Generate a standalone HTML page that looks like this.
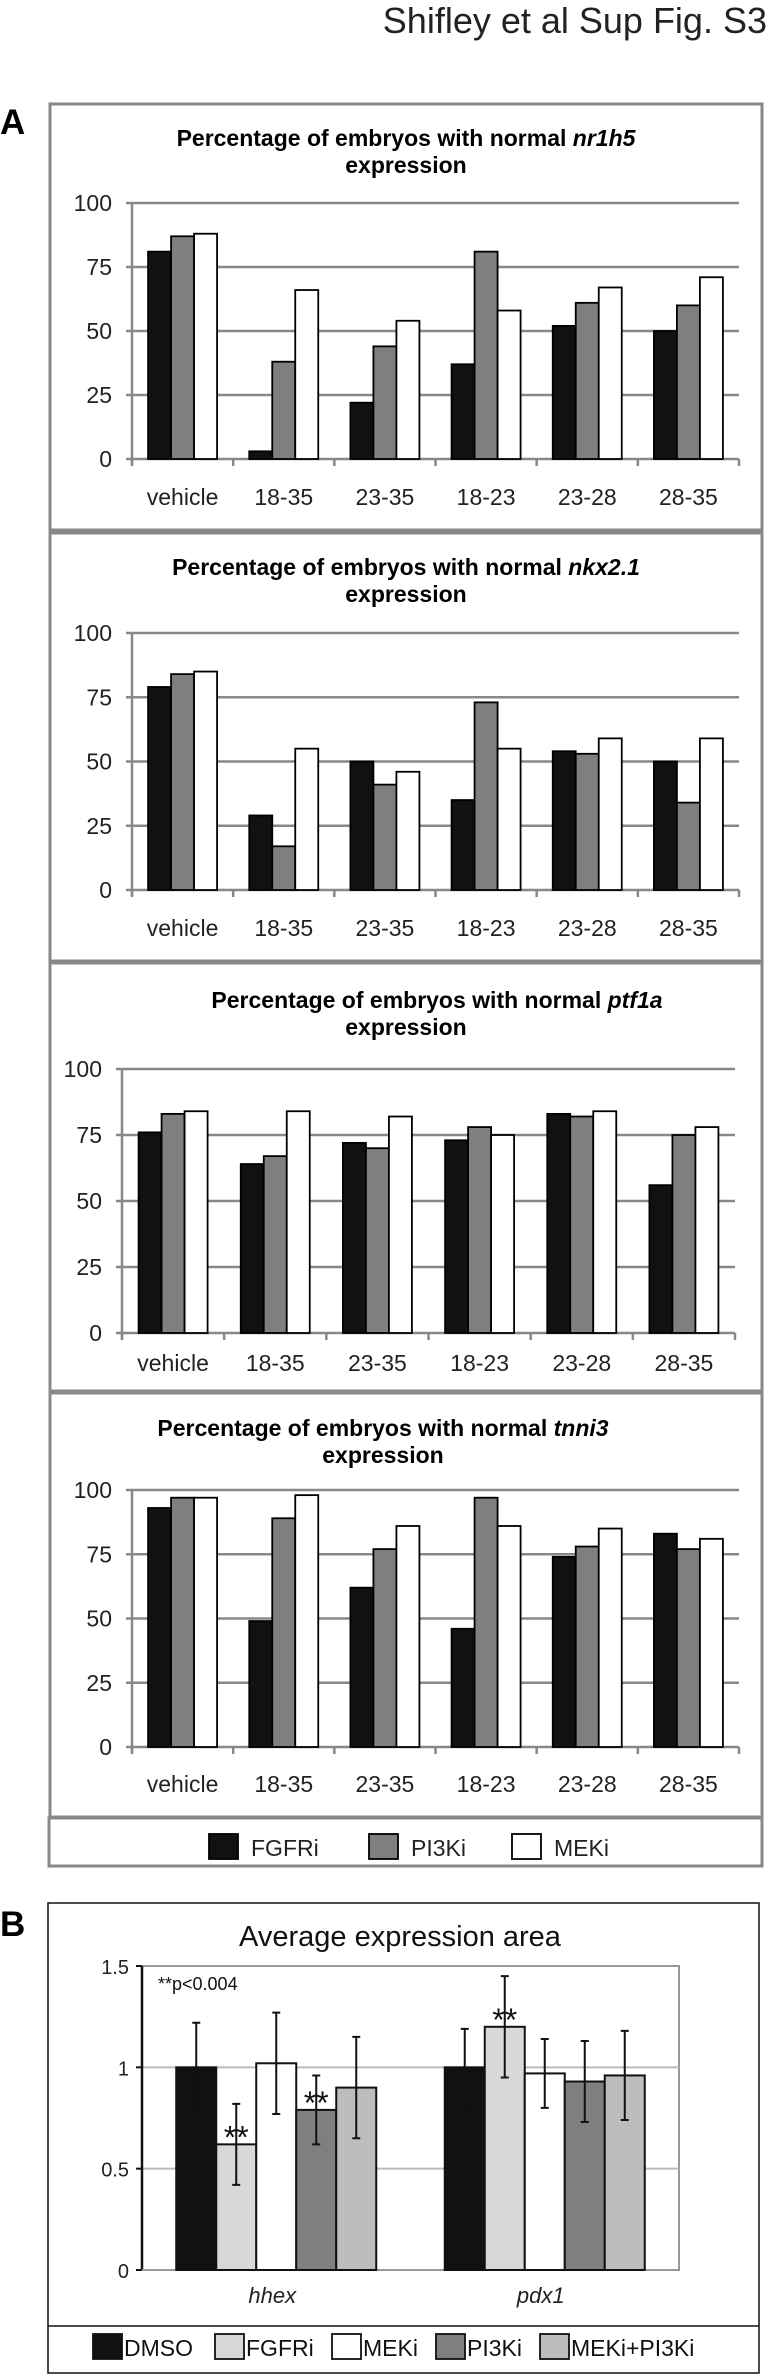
<!DOCTYPE html>
<html><head><meta charset="utf-8"><style>
body{margin:0;background:#fff}
svg{display:block;font-family:"Liberation Sans",Arial,sans-serif}
</style></head><body>
<svg id="fig" width="770" height="2376" viewBox="0 0 770 2376" xmlns="http://www.w3.org/2000/svg">
<text x="767" y="33" text-anchor="end" font-size="36" fill="#222">Shifley et al Sup Fig. S3</text>
<text x="0" y="134" font-size="35" font-weight="bold">A</text>
<text x="0" y="1936" font-size="35" font-weight="bold">B</text>
<g id="panels"></g>
</svg>
<script>
const categories = ["vehicle","18-35","23-35","18-23","23-28","28-35"];
const seriesNames = ["FGFRi","PI3Ki","MEKi"];
const yTicks = [0,25,50,75,100];
const nr1h5FGFRi = [81,3,22,37,52,50];
const nr1h5PI3Ki = [87,38,44,81,61,60];
const nr1h5MEKi = [88,66,54,58,67,71];
const nkx21FGFRi = [79,29,50,35,54,50];
const nkx21PI3Ki = [84,17,41,73,53,34];
const nkx21MEKi = [85,55,46,55,59,59];
const ptf1aFGFRi = [76,64,72,73,83,56];
const ptf1aPI3Ki = [83,67,70,78,82,75];
const ptf1aMEKi = [84,84,82,75,84,78];
const tnni3FGFRi = [93,49,62,46,74,83];
const tnni3PI3Ki = [97,89,77,97,78,77];
const tnni3MEKi = [97,98,86,86,85,81];

const bCategories = ["hhex","pdx1"];
const bSeries = ["DMSO","FGFRi","MEKi","PI3Ki","MEKi+PI3Ki"];
const bTicks = [0,0.5,1,1.5];
const hhexValues = [1.0,0.62,1.02,0.79,0.90];
const hhexErrors = [0.22,0.20,0.25,0.17,0.25];
const pdx1Values = [1.0,1.20,0.97,0.93,0.96];
const pdx1Errors = [0.19,0.25,0.17,0.20,0.22];
const hhexSig = [false,true,false,true,false];
const pdx1Sig = [false,true,false,false,false];

const NS="http://www.w3.org/2000/svg";
const root=document.getElementById('panels');
function mk(tag,attrs,parent){const e=document.createElementNS(NS,tag);for(const k in attrs)e.setAttribute(k,attrs[k]);(parent||root).appendChild(e);return e;}
const aColors=["#111","#7f7f7f","#fff"];

function drawPanel(cfg){
  const g=mk('g',{});
  
  
  const box=mk('rect',{x:50,y:cfg.top,width:712,height:cfg.bottom-cfg.top,fill:'#fff',stroke:'#888','stroke-width':3},g);
  
  
  const t1=mk('text',{x:cfg.tcx,y:cfg.t1y,'text-anchor':'middle','font-size':23,'font-weight':'bold'},g);
  
  
  t1.appendChild(document.createTextNode('Percentage of embryos with normal '));
  const ts=mk('tspan',{'font-style':'italic'},t1);ts.textContent=cfg.gene;
  const t2=mk('text',{x:cfg.t2cx,y:cfg.t1y+27,'text-anchor':'middle','font-size':23,'font-weight':'bold'},g);
  t2.textContent='expression';
  
  
  const yS=v=>cfg.y0-(cfg.y0-cfg.y100)*v/100;
  const cw=(cfg.x1-cfg.ax)/categories.length;
  yTicks.forEach(v=>{
    const y=yS(v);
    const l=mk('line',{x1:cfg.ax-6,x2:cfg.x1,y1:y,y2:y,stroke:'#888','stroke-width':2.5},g);
    
    
    const tx=mk('text',{x:cfg.ax-20,y:y+8,'text-anchor':'end','font-size':23,fill:'#222'},g);
    tx.textContent=v;
    
    
  });
  mk('line',{x1:cfg.ax,x2:cfg.ax,y1:cfg.y100,y2:cfg.y0+6,stroke:'#888','stroke-width':2.5},g);
  for(let i=0;i<=categories.length;i++){
    const x=cfg.ax+i*cw;
    mk('line',{x1:x,x2:x,y1:cfg.y0,y2:cfg.y0+7,stroke:'#888','stroke-width':2.5},g);
  }
  const series=[cfg.s0,cfg.s1,cfg.s2];
  const bw=23;
  categories.forEach((c,i)=>{
    const gx=cfg.ax+i*cw+(cw-3*bw)/2;
    series.forEach((arr,j)=>{
      const y=yS(arr[i]);
      const r=mk('rect',{x:gx+j*bw,y:y,width:bw,height:cfg.y0-y,fill:aColors[j],stroke:'#000','stroke-width':1.8},g);
      
      
    });
    const lt=mk('text',{x:cfg.ax+(i+0.5)*cw,y:cfg.lblY,'text-anchor':'middle','font-size':23,fill:'#222'},g);
    lt.textContent=c;
    
    
  });
}
drawPanel({name:'nr1h5',gene:'nr1h5',top:104,bottom:530,tcx:406,t2cx:406,t1y:146,ax:132,x1:739,y100:203,y0:459,lblY:505,s0:nr1h5FGFRi,s1:nr1h5PI3Ki,s2:nr1h5MEKi});
drawPanel({name:'nkx2-1',gene:'nkx2.1',top:533,bottom:961,tcx:406,t2cx:406,t1y:575,ax:132,x1:739,y100:633,y0:890,lblY:936,s0:nkx21FGFRi,s1:nkx21PI3Ki,s2:nkx21MEKi});
drawPanel({name:'ptf1a',gene:'ptf1a',top:963,bottom:1391,tcx:437,t2cx:406,t1y:1008,ax:122,x1:735,y100:1069,y0:1333,lblY:1371,s0:ptf1aFGFRi,s1:ptf1aPI3Ki,s2:ptf1aMEKi});
drawPanel({name:'tnni3',gene:'tnni3',top:1393,bottom:1817,tcx:383,t2cx:383,t1y:1436,ax:132,x1:739,y100:1490,y0:1747,lblY:1792,s0:tnni3FGFRi,s1:tnni3PI3Ki,s2:tnni3MEKi});

// Legend A
const legA=mk('g',{});


mk('rect',{x:49,y:1818,width:713,height:48,fill:'#fff',stroke:'#888','stroke-width':3},legA);
const legAX=[209,369,512];
seriesNames.forEach((n,j)=>{
  const r=mk('rect',{x:legAX[j],y:1834,width:29,height:25,fill:aColors[j],stroke:'#000','stroke-width':1.8},legA);
  
  
  const t=mk('text',{x:legAX[j]+42,y:1856,'font-size':23,fill:'#222'},legA);
  t.textContent=n;
  
  
});

// Panel B
const bColors=["#111","#d8d8d8","#fff","#7f7f7f","#bdbdbd"];
const gb=mk('g',{});


mk('rect',{x:48,y:1903,width:711,height:470,fill:'#fff',stroke:'#111','stroke-width':1.5},gb);
mk('line',{x1:48,x2:759,y1:2326,y2:2326,stroke:'#111','stroke-width':1.5},gb);
const bt=mk('text',{x:400,y:1946,'text-anchor':'middle','font-size':29,fill:'#111'},gb);
bt.textContent='Average expression area';


const bx0=142,bx1=679,by0=2270,byTop=1966,bMax=1.5;
const bY=v=>by0-(by0-byTop)*v/bMax;
mk('rect',{x:bx0,y:byTop,width:bx1-bx0,height:by0-byTop,fill:'none',stroke:'#999','stroke-width':2},gb);
bTicks.forEach(v=>{
  const y=bY(v);
  if(v>0&&v<bMax){const l=mk('line',{x1:bx0,x2:bx1,y1:y,y2:y,stroke:'#bbb','stroke-width':2},gb);
  
  }
  mk('line',{x1:bx0-6,x2:bx0,y1:y,y2:y,stroke:'#111','stroke-width':2},gb);
  const t=mk('text',{x:bx0-13,y:y+8,'text-anchor':'end','font-size':20,fill:'#222'},gb);
  t.textContent=String(v);
  
  
});
mk('line',{x1:bx0,x2:bx0,y1:byTop,y2:by0,stroke:'#111','stroke-width':2.5},gb);
mk('line',{x1:bx0,x2:bx1,y1:by0,y2:by0,stroke:'#999','stroke-width':2},gb);
const pt=mk('text',{x:158,y:1990,'font-size':18,fill:'#111'},gb);
pt.textContent='**p<0.004';


const bVals=[hhexValues,pdx1Values],bErrs=[hhexErrors,pdx1Errors],bSig=[hhexSig,pdx1Sig];
const bcw=(bx1-bx0)/bCategories.length,bbw=40;
bCategories.forEach((c,i)=>{
  const gx=bx0+i*bcw+(bcw-bbw*bSeries.length)/2;
  bSeries.forEach((s,j)=>{
    const v=bVals[i][j],e=bErrs[i][j],y=bY(v),x=gx+j*bbw;
    const r=mk('rect',{x:x,y:y,width:bbw,height:by0-y,fill:bColors[j],stroke:'#111','stroke-width':2},gb);
    
    
    const cx=x+bbw/2;
    const eb=mk('path',{d:`M${cx},${bY(v-e)}V${bY(v+e)}M${cx-4},${bY(v-e)}H${cx+4}M${cx-4},${bY(v+e)}H${cx+4}`,stroke:'#111','stroke-width':2,fill:'none'},gb);
    
    
    if(bSig[i][j]){
      const st=mk('text',{x:cx,y:y+4,'text-anchor':'middle','font-size':32,fill:'#111'},gb);
      st.textContent='**';
      
      
    }
  });
  const lt=mk('text',{x:bx0+(i+0.5)*bcw-4,y:2303,'text-anchor':'middle','font-size':22,'font-style':'italic',fill:'#222'},gb);
  lt.textContent=c;
  
  
});
const legBX=[93,215,332,436,540];
bSeries.forEach((s,j)=>{
  const r=mk('rect',{x:legBX[j],y:2334,width:29,height:25,fill:bColors[j],stroke:'#111','stroke-width':1.8},gb);
  
  
  const t=mk('text',{x:legBX[j]+31,y:2356,'font-size':23,fill:'#111'},gb);
  t.textContent=s;
  
  
});
</script>
</body></html>
